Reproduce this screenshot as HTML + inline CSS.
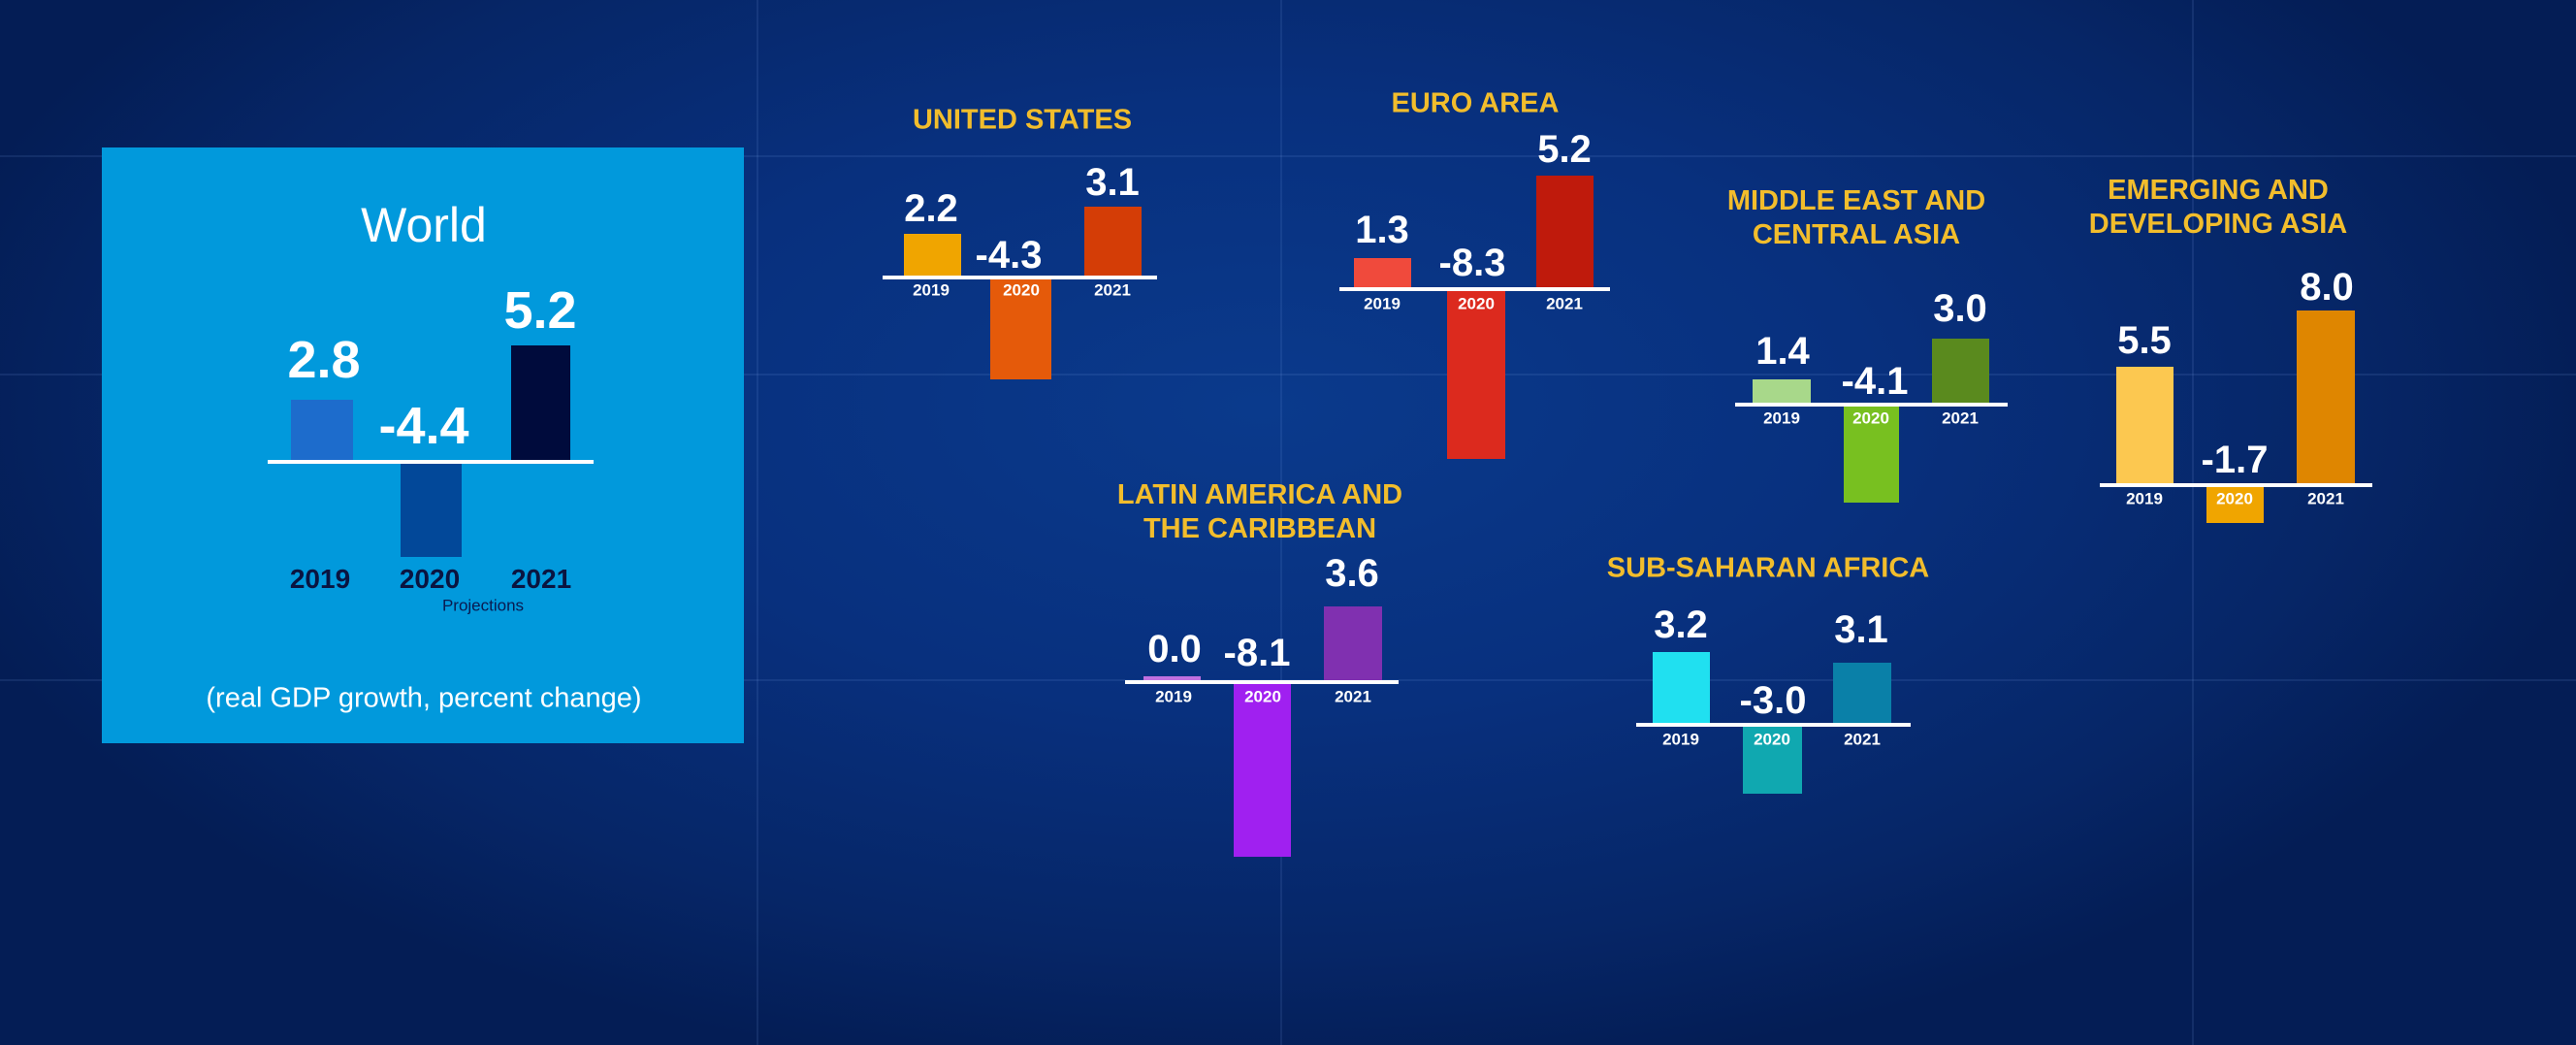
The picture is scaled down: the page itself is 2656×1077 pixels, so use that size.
<!DOCTYPE html>
<html><head><meta charset="utf-8"><style>
*{margin:0;padding:0;box-sizing:border-box}
body{width:2656px;height:1077px;overflow:hidden;position:relative;font-family:"Liberation Sans",sans-serif;
background:radial-gradient(ellipse 1400px 700px at 1300px 420px,#0a3a8c 0%,#08307e 45%,#062667 80%,#041d55 100%);}
.a{position:absolute}
.t{position:absolute;transform:translate(-50%,-50%);white-space:nowrap;line-height:1}
.n{font-family:"Liberation Sans",sans-serif;font-weight:bold;color:#fff;font-size:40px}
.y{font-family:"Liberation Sans",sans-serif;font-weight:bold;color:#fff;font-size:17px}
.h{font-family:"Liberation Sans",sans-serif;font-weight:bold;color:#f2bd2c;font-size:29px;text-align:center;line-height:1.2}
.l{position:absolute;height:4px;background:#fff}
.g{position:absolute;background:rgba(120,160,230,0.13)}
</style></head><body>
<div class="g" style="left:0;top:385px;width:2656px;height:2px"></div>
<div class="g" style="left:0;top:700px;width:2656px;height:2px"></div>
<div class="g" style="left:0;top:160px;width:2656px;height:2px"></div>
<div class="g" style="left:1320px;top:0;width:2px;height:1077px"></div>
<div class="g" style="left:2260px;top:0;width:2px;height:1077px"></div>
<div class="g" style="left:780px;top:0;width:2px;height:1077px"></div>

<div class="a" style="left:105px;top:152px;width:662px;height:614px;background:#0199dc"></div>
<div class="t" style="left:437px;top:232px;font-size:50px;color:#fff">World</div>
<div class="a" style="left:300px;top:412px;width:64px;height:64px;background:#1d6ccc"></div>
<div class="a" style="left:413px;top:476px;width:63px;height:98px;background:#024899"></div>
<div class="a" style="left:527px;top:356px;width:61px;height:120px;background:#000b3c"></div>
<div class="l" style="left:276px;top:474px;width:336px"></div>
<div class="t n" style="left:334px;top:371px;font-size:54px">2.8</div>
<div class="t n" style="left:437px;top:439px;font-size:54px">-4.4</div>
<div class="t n" style="left:557px;top:320px;font-size:54px">5.2</div>
<div class="t" style="left:330px;top:597px;font-size:28px;font-weight:bold;color:#0a1440">2019</div>
<div class="t" style="left:443px;top:597px;font-size:28px;font-weight:bold;color:#0a1440">2020</div>
<div class="t" style="left:558px;top:597px;font-size:28px;font-weight:bold;color:#0a1440">2021</div>
<div class="t" style="left:498px;top:624px;font-size:17px;color:#0a1a50">Projections</div>
<div class="t" style="left:437px;top:720px;font-size:29px;color:#fff">(real GDP growth, percent change)</div>

<div class="t h" style="left:1054px;top:124px">UNITED STATES</div>
<div class="a" style="left:932px;top:241px;width:59px;height:45px;background:#f0a500"></div>
<div class="a" style="left:1021px;top:286px;width:63px;height:105px;background:#e55a0a"></div>
<div class="a" style="left:1118px;top:213px;width:59px;height:73px;background:#d43d06"></div>
<div class="l" style="left:910px;top:284px;width:283px"></div>
<div class="t n" style="left:960px;top:215px">2.2</div>
<div class="t n" style="left:1040px;top:263px">-4.3</div>
<div class="t n" style="left:1147px;top:188px">3.1</div>
<div class="t y" style="left:960px;top:299px">2019</div>
<div class="t y" style="left:1053px;top:299px">2020</div>
<div class="t y" style="left:1147px;top:299px">2021</div>

<div class="t h" style="left:1521px;top:107px">EURO AREA</div>
<div class="a" style="left:1396px;top:266px;width:59px;height:32px;background:#f04a3c"></div>
<div class="a" style="left:1492px;top:298px;width:60px;height:175px;background:#dc2a1e"></div>
<div class="a" style="left:1584px;top:181px;width:59px;height:117px;background:#bf1a0c"></div>
<div class="l" style="left:1381px;top:296px;width:279px"></div>
<div class="t n" style="left:1425px;top:237px">1.3</div>
<div class="t n" style="left:1518px;top:271px">-8.3</div>
<div class="t n" style="left:1613px;top:154px">5.2</div>
<div class="t y" style="left:1425px;top:313px">2019</div>
<div class="t y" style="left:1522px;top:313px">2020</div>
<div class="t y" style="left:1613px;top:313px">2021</div>

<div class="t h" style="left:1914px;top:225px">MIDDLE EAST AND<br>CENTRAL ASIA</div>
<div class="a" style="left:1807px;top:391px;width:60px;height:26px;background:#a8d88a"></div>
<div class="a" style="left:1901px;top:417px;width:57px;height:101px;background:#78c020"></div>
<div class="a" style="left:1992px;top:349px;width:59px;height:68px;background:#5a8a1e"></div>
<div class="l" style="left:1789px;top:415px;width:281px"></div>
<div class="t n" style="left:1838px;top:362px">1.4</div>
<div class="t n" style="left:1933px;top:393px">-4.1</div>
<div class="t n" style="left:2021px;top:318px">3.0</div>
<div class="t y" style="left:1837px;top:431px">2019</div>
<div class="t y" style="left:1929px;top:431px">2020</div>
<div class="t y" style="left:2021px;top:431px">2021</div>

<div class="t h" style="left:2287px;top:214px">EMERGING AND<br>DEVELOPING ASIA</div>
<div class="a" style="left:2182px;top:378px;width:59px;height:122px;background:#fcc850"></div>
<div class="a" style="left:2275px;top:500px;width:59px;height:39px;background:#f0a500"></div>
<div class="a" style="left:2368px;top:320px;width:60px;height:180px;background:#df8600"></div>
<div class="l" style="left:2165px;top:498px;width:281px"></div>
<div class="t n" style="left:2211px;top:351px">5.5</div>
<div class="t n" style="left:2304px;top:474px">-1.7</div>
<div class="t n" style="left:2399px;top:296px">8.0</div>
<div class="t y" style="left:2211px;top:514px">2019</div>
<div class="t y" style="left:2304px;top:514px">2020</div>
<div class="t y" style="left:2398px;top:514px">2021</div>

<div class="t h" style="left:1299px;top:528px">LATIN AMERICA AND<br>THE CARIBBEAN</div>
<div class="a" style="left:1179px;top:697px;width:59px;height:6px;background:#c070e0"></div>
<div class="a" style="left:1272px;top:703px;width:59px;height:180px;background:#a020f0"></div>
<div class="a" style="left:1365px;top:625px;width:60px;height:78px;background:#8030b0"></div>
<div class="l" style="left:1160px;top:701px;width:282px"></div>
<div class="t n" style="left:1211px;top:669px">0.0</div>
<div class="t n" style="left:1296px;top:673px">-8.1</div>
<div class="t n" style="left:1394px;top:591px">3.6</div>
<div class="t y" style="left:1210px;top:718px">2019</div>
<div class="t y" style="left:1302px;top:718px">2020</div>
<div class="t y" style="left:1395px;top:718px">2021</div>

<div class="t h" style="left:1823px;top:586px">SUB-SAHARAN AFRICA</div>
<div class="a" style="left:1704px;top:672px;width:59px;height:75px;background:#20e0f0"></div>
<div class="a" style="left:1797px;top:747px;width:61px;height:71px;background:#10a8b0"></div>
<div class="a" style="left:1890px;top:683px;width:60px;height:64px;background:#0a80a8"></div>
<div class="l" style="left:1687px;top:745px;width:283px"></div>
<div class="t n" style="left:1733px;top:644px">3.2</div>
<div class="t n" style="left:1828px;top:722px">-3.0</div>
<div class="t n" style="left:1919px;top:649px">3.1</div>
<div class="t y" style="left:1733px;top:762px">2019</div>
<div class="t y" style="left:1827px;top:762px">2020</div>
<div class="t y" style="left:1920px;top:762px">2021</div>
</body></html>
